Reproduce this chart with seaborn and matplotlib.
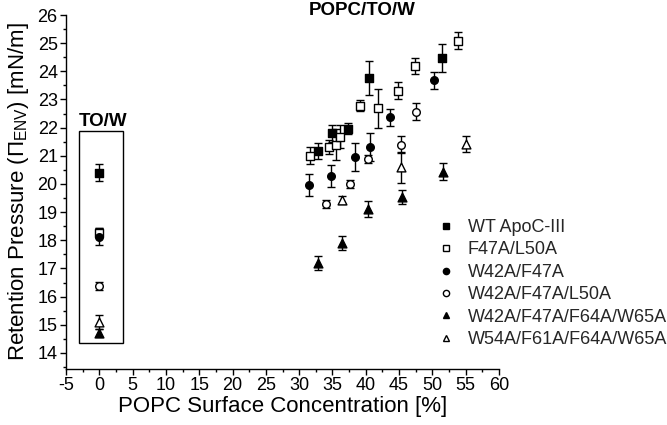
import numpy as np
import pandas as pd
import matplotlib
matplotlib.use('Agg')
import matplotlib.pyplot as plt
import seaborn as sns
from matplotlib.lines import Line2D
from matplotlib.patches import Rectangle
from matplotlib.ticker import MultipleLocator

# ---------------- data ----------------
wt_x = [0, 32.9, 34.9, 37.3, 40.5, 51.4]
wt_y = [20.4, 21.17, 21.8, 21.96, 23.77, 24.48]
wt_e = [0.3, 0.3, 0.3, 0.2, 0.6, 0.5]

f47_x = [0, 31.6, 34.5, 35.5, 36.2, 39.2, 41.8, 44.9, 47.4, 53.9]
f47_y = [18.27, 21.0, 21.3, 21.39, 21.68, 22.78, 22.69, 23.31, 24.19, 25.09]
f47_e = [0.15, 0.3, 0.25, 0.55, 0.4, 0.2, 0.7, 0.3, 0.3, 0.3]

w42_x = [0, 31.5, 34.8, 38.4, 40.6, 43.6, 50.3]
w42_y = [18.13, 19.97, 20.28, 20.97, 21.3, 22.37, 23.69]
w42_e = [0.3, 0.4, 0.4, 0.5, 0.5, 0.3, 0.3]

w42l_x = [0, 34.1, 37.6, 40.4, 45.3, 47.6]
w42l_y = [16.38, 19.28, 19.99, 20.88, 21.39, 22.57]
w42l_e = [0.15, 0.15, 0.15, 0.15, 0.3, 0.3]

w42w_x = [0, 32.9, 36.5, 40.4, 45.5, 51.6]
w42w_y = [14.7, 17.19, 17.9, 19.11, 19.53, 20.44]
w42w_e = [0.15, 0.25, 0.25, 0.3, 0.25, 0.3]

w54_x = [0, 36.5, 45.3, 55.0]
w54_y = [15.11, 19.43, 20.59, 21.42]
w54_e = [0.25, 0.15, 0.55, 0.3]

labels = ["WT ApoC-III", "F47A/L50A", "W42A/F47A", "W42A/F47A/L50A",
          "W42A/F47A/F64A/W65A", "W54A/F61A/F64A/W65A"]

# ---------------- style ----------------
sns.set_theme(style='ticks')
plt.rcParams['font.family'] = ['Liberation Sans', 'DejaVu Sans']
plt.rcParams['mathtext.fontset'] = 'custom'
plt.rcParams['mathtext.rm'] = 'Liberation Sans'
plt.rcParams['mathtext.it'] = 'Liberation Sans:italic'
plt.rcParams['axes.unicode_minus'] = False

series = [
    (labels[0], wt_x, wt_y, wt_e, 's', 'black', 28),
    (labels[1], f47_x, f47_y, f47_e, 's', 'white', 28),
    (labels[2], w42_x, w42_y, w42_e, 'o', 'black', 30),
    (labels[3], w42l_x, w42l_y, w42l_e, 'o', 'white', 30),
    (labels[4], w42w_x, w42w_y, w42w_e, '^', 'black', 40),
    (labels[5], w54_x, w54_y, w54_e, '^', 'white', 40),
]

fig = plt.figure(figsize=(6.67, 4.25), dpi=100)
ax = fig.add_axes([66 / 667, 1 - 369 / 425, (499 - 66) / 667, (369 - 15) / 425])

for name, xs, ys, es, m, fc, s in series:
    ax.errorbar(xs, ys, yerr=es, fmt='none', ecolor='black', elinewidth=1.0,
                capsize=3, capthick=1.0, zorder=2)
    df = pd.DataFrame({'x': xs, 'y': ys})
    sns.scatterplot(data=df, x='x', y='y', marker=m, s=s, color=fc,
                    edgecolor='black', linewidth=1.0, ax=ax, zorder=3, legend=False)

ax.set_xlim(-5, 60)
ax.set_ylim(13.43, 26)
ax.xaxis.set_major_locator(MultipleLocator(5))
ax.xaxis.set_minor_locator(MultipleLocator(2.5))
ax.yaxis.set_major_locator(MultipleLocator(1))
ax.yaxis.set_minor_locator(MultipleLocator(0.5))
ax.tick_params(which='major', direction='out', length=4, width=1.0, labelsize=13,
               color='black', labelcolor='black', pad=2)
ax.tick_params(which='minor', direction='out', length=2.5, width=1.0, color='black')
for sp in ['top', 'right']:
    ax.spines[sp].set_visible(False)
for sp in ['left', 'bottom']:
    ax.spines[sp].set_linewidth(1.0)
    ax.spines[sp].set_color('black')

ax.set_xlabel('POPC Surface Concentration [%]', fontsize=16, color='black', labelpad=1)
ax.set_ylabel('Retention Pressure (Π$_{\\mathrm{ENV}}$) [mN/m]', fontsize=16,
              color='black', labelpad=5)

# TO/W box
ax.add_patch(Rectangle((-3.05, 14.37), 6.65, 7.51, fill=False, edgecolor='black',
                       linewidth=1.0, zorder=1))
ax.text(-3.05, 22.06, 'TO/W', fontsize=13.5, fontweight='bold', ha='left',
        va='baseline', color='black')
ax.text(39.4, 26.0, 'POPC/TO/W', fontsize=13.5, fontweight='bold', ha='center',
        va='baseline', color='black', clip_on=False)

handles = [Line2D([], [], marker=m, linestyle='none', markerfacecolor=fc,
                  markeredgecolor='black', markersize=4.5, markeredgewidth=1.0)
           for (_, _, _, _, m, fc, _) in series]
fig.legend(handles, labels, loc='upper left', bbox_to_anchor=(437 / 667, 1 - 219 / 425),
           frameon=False, fontsize=13, handlelength=1.0, handletextpad=0.7,
           labelspacing=0.3, borderpad=0, borderaxespad=0)

fig.savefig('out.png', dpi=100)
